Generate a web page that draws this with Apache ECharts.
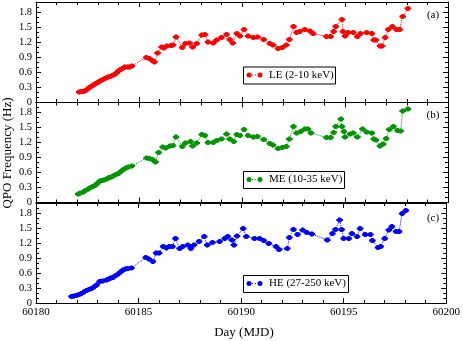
<!DOCTYPE html>
<html><head><meta charset="utf-8">
<script src="https://cdn.jsdelivr.net/npm/echarts@6/dist/echarts.min.js"></script>
<style>html,body{margin:0;padding:0;background:#fff}#c{width:463px;height:341px}</style>
</head><body><div id="c"></div>
<script>
// ---- data ----
const xTicks = [60180, 60185, 60190, 60195, 60200];
const yTicks = [0, 0.3, 0.6, 0.9, 1.2, 1.5, 1.8];

const leDays = [60182.10,60182.20,60182.30,60182.40,60182.50,60182.60,60182.70,60182.80,60182.90,60183.00,60183.10,60183.20,60183.30,60183.40,60183.50,60183.60,60183.70,60183.80,60183.90,60184.00,60184.10,60184.20,60184.30,60184.45,60184.55,60184.65,60185.35,60185.50,60185.65,60185.75,60185.90,60186.10,60186.20,60186.35,60186.55,60186.65,60186.80,60187.10,60187.25,60187.45,60187.60,60187.80,60188.05,60188.20,60188.35,60188.60,60188.77,60189.00,60189.25,60189.40,60189.55,60189.75,60189.90,60190.10,60190.30,60190.55,60190.75,60191.05,60191.35,60191.50,60191.75,60191.95,60192.15,60192.30,60192.50,60192.65,60192.80,60193.05,60193.30,60193.45,60194.10,60194.30,60194.45,60194.55,60194.85,60194.90,60195.00,60195.15,60195.40,60195.60,60195.75,60196.05,60196.30,60196.40,60196.50,60196.70,60196.80,60196.95,60197.10,60197.30,60197.50,60197.65,60197.80,60198.05];
const leFreq = [0.20,0.21,0.21,0.23,0.26,0.29,0.32,0.34,0.37,0.39,0.42,0.44,0.46,0.48,0.50,0.51,0.53,0.55,0.58,0.62,0.65,0.67,0.70,0.70,0.70,0.72,0.89,0.87,0.83,0.80,0.98,1.10,1.08,1.12,1.13,1.14,1.30,1.09,1.17,1.18,1.10,1.17,1.34,1.35,1.20,1.18,1.24,1.29,1.35,1.25,1.18,1.37,1.32,1.45,1.32,1.29,1.30,1.25,1.17,1.14,1.07,1.09,1.14,1.25,1.51,1.39,1.41,1.45,1.42,1.37,1.31,1.31,1.41,1.51,1.65,1.41,1.32,1.39,1.39,1.31,1.37,1.39,1.37,1.24,1.24,1.12,1.12,1.29,1.45,1.51,1.45,1.45,1.71,1.87];

const meDays = [60182.05,60182.15,60182.30,60182.40,60182.54,60182.65,60182.75,60182.86,60182.97,60183.10,60183.20,60183.30,60183.43,60183.55,60183.65,60183.75,60183.88,60184.00,60184.12,60184.24,60184.36,60184.48,60184.65,60185.37,60185.50,60185.65,60185.80,60185.95,60186.15,60186.30,60186.50,60186.65,60186.80,60187.10,60187.25,60187.50,60187.60,60187.80,60188.05,60188.20,60188.35,60188.60,60188.77,60189.00,60189.25,60189.40,60189.60,60189.75,60189.90,60190.10,60190.30,60190.55,60190.75,60191.05,60191.35,60191.50,60191.75,60191.95,60192.15,60192.30,60192.50,60192.65,60192.85,60193.05,60193.20,60193.35,60194.10,60194.30,60194.45,60194.55,60194.80,60194.85,60194.95,60195.00,60195.25,60195.40,60195.60,60195.85,60196.05,60196.30,60196.40,60196.50,60196.70,60196.85,60197.00,60197.15,60197.35,60197.55,60197.70,60197.80,60198.05];
const meFreq = [0.17,0.19,0.21,0.24,0.27,0.30,0.32,0.34,0.38,0.43,0.44,0.45,0.47,0.50,0.51,0.53,0.56,0.58,0.62,0.66,0.69,0.71,0.73,0.89,0.88,0.86,0.81,1.00,1.11,1.09,1.13,1.14,1.31,1.12,1.19,1.22,1.13,1.19,1.36,1.34,1.20,1.20,1.24,1.27,1.37,1.27,1.22,1.36,1.34,1.46,1.34,1.31,1.32,1.26,1.18,1.15,1.08,1.10,1.12,1.27,1.52,1.39,1.42,1.47,1.47,1.39,1.30,1.30,1.40,1.52,1.67,1.52,1.42,1.31,1.37,1.39,1.31,1.47,1.41,1.39,1.27,1.25,1.13,1.17,1.28,1.46,1.52,1.44,1.43,1.83,1.87];

const heDays = [60181.73,60181.85,60181.97,60182.10,60182.20,60182.33,60182.46,60182.58,60182.70,60182.82,60182.95,60183.10,60183.25,60183.43,60183.55,60183.65,60183.75,60183.88,60184.00,60184.12,60184.24,60184.36,60184.48,60184.65,60185.35,60185.50,60185.70,60185.86,60186.00,60186.20,60186.35,60186.50,60186.65,60186.80,60187.00,60187.15,60187.40,60187.55,60187.70,60187.95,60188.20,60188.35,60188.60,60188.95,60189.20,60189.35,60189.55,60189.65,60189.80,60190.10,60190.25,60190.65,60190.90,60191.10,60191.35,60191.70,60191.85,60192.25,60192.35,60192.55,60192.75,60193.00,60193.20,60193.45,60194.20,60194.45,60194.60,60194.80,60194.90,60195.00,60195.25,60195.40,60195.65,60195.80,60196.05,60196.30,60196.40,60196.67,60196.80,60197.00,60197.20,60197.35,60197.55,60197.70,60197.85,60198.03];
const heFreq = [0.13,0.14,0.15,0.17,0.19,0.22,0.25,0.27,0.29,0.32,0.36,0.43,0.44,0.46,0.48,0.50,0.51,0.55,0.58,0.62,0.66,0.68,0.69,0.70,0.91,0.88,0.83,1.00,1.00,1.13,1.10,1.13,1.13,1.29,1.09,1.13,1.16,1.09,1.16,1.23,1.33,1.16,1.21,1.23,1.29,1.33,1.26,1.16,1.34,1.49,1.33,1.29,1.29,1.25,1.19,1.13,1.07,1.09,1.31,1.47,1.37,1.46,1.41,1.38,1.26,1.39,1.47,1.66,1.47,1.29,1.29,1.39,1.33,1.49,1.37,1.37,1.25,1.11,1.13,1.29,1.46,1.53,1.43,1.43,1.79,1.85];

const xErr = 0.16;  // day
const yErr = 0.045; // Hz

const panels = [
  {name: 'LE (2-10 keV)',   tag: '(a)', color: '#ff0000', days: leDays, freq: leFreq},
  {name: 'ME (10-35 keV)',  tag: '(b)', color: '#009400', days: meDays, freq: meFreq},
  {name: 'HE (27-250 keV)', tag: '(c)', color: '#0000ff', days: heDays, freq: heFreq}
];

// ---- layout ----
const FONT = 'Liberation Serif';
const gridTops = [2, 102.5, 203];
const gridH = 100;
const gridL = 36, gridW = 412;
const legendBoxes = [
  {x: 243, y: 66.5, w: 92, h: 17},
  {x: 243, y: 171, w: 101, h: 17},
  {x: 243, y: 275, w: 105, h: 17}
];
const tagY = [15, 115.5, 218];

const chart = echarts.init(document.getElementById('c'), null, {renderer: 'canvas'});

const grids = [], xAxes = [], yAxes = [], series = [], graphics = [];
const axisLineStyle = {color: '#000', width: 1};

panels.forEach((p, i) => {
  grids.push({left: gridL, top: gridTops[i], width: gridW, height: gridH});
  const isLast = i === panels.length - 1;
  const xBase = {
    type: 'value', gridIndex: i, min: xTicks[0], max: xTicks[xTicks.length - 1], interval: 5,
    axisLine: {show: true, onZero: false, lineStyle: axisLineStyle},
    axisTick: {show: true, inside: true, length: 5, lineStyle: {color: '#000', width: 1}},
    minorTick: {show: true, splitNumber: 5, length: 3, lineStyle: {color: '#000', width: 1}},
    splitLine: {show: false}
  };
  xAxes.push(Object.assign({}, xBase, {
    position: 'bottom',
    axisLabel: {show: isLast, fontFamily: FONT, fontSize: 11, color: '#000', margin: 4,
      formatter: v => xTicks.includes(v) ? String(v) : ''}
  }));
  xAxes.push(Object.assign({}, xBase, {position: 'top', axisLabel: {show: false}}));

  const yBase = {
    type: 'value', gridIndex: i, min: 0, max: 2.0, interval: 0.3,
    axisLine: {show: true, onZero: false, lineStyle: axisLineStyle},
    axisTick: {show: true, inside: true, length: 5, lineStyle: {color: '#000', width: 1}},
    minorTick: {show: true, splitNumber: 3, length: 3, lineStyle: {color: '#000', width: 1}},
    splitLine: {show: false}
  };
  yAxes.push(Object.assign({}, yBase, {
    position: 'left',
    axisLabel: {show: true, fontFamily: FONT, fontSize: 10.5, color: '#000', margin: 4,
      showMaxLabel: false,
      formatter: v => { const t = yTicks.find(k => Math.abs(k - v) < 1e-6); return t === undefined ? '' : String(t); }}
  }));
  yAxes.push(Object.assign({}, yBase, {position: 'right', axisLabel: {show: false}}));

  const data = p.days.map((d, k) => [d, p.freq[k]]);
  series.push({
    type: 'line', name: p.name, xAxisIndex: 2 * i, yAxisIndex: 2 * i, data: data,
    showSymbol: true, symbol: 'circle', symbolSize: 5,
    itemStyle: {color: p.color},
    lineStyle: {color: p.color, width: 1, type: 'dotted'},
    z: 4, silent: true
  });
  series.push({
    type: 'custom', xAxisIndex: 2 * i, yAxisIndex: 2 * i, data: data, silent: true, z: 3,
    renderItem: (params, api) => {
      const x = api.value(0), y = api.value(1);
      const l = api.coord([x - xErr, y]), r = api.coord([x + xErr, y]);
      const t = api.coord([x, y + yErr]), b = api.coord([x, y - yErr]);
      return {type: 'group', children: [
        {type: 'line', shape: {x1: l[0], y1: l[1], x2: r[0], y2: r[1]}, style: {stroke: p.color, lineWidth: 2}},
        {type: 'line', shape: {x1: t[0], y1: t[1], x2: b[0], y2: b[1]}, style: {stroke: p.color, lineWidth: 2}}
      ]};
    }
  });

  // legend box
  const lb = legendBoxes[i];
  const cy = lb.y + lb.h / 2;
  graphics.push({type: 'rect', left: lb.x, top: lb.y, shape: {x: 0, y: 0, width: lb.w, height: lb.h},
    style: {fill: '#fff', stroke: '#000', lineWidth: 1}, z: 10});
  graphics.push({type: 'line', shape: {x1: lb.x + 6, y1: cy, x2: lb.x + 17, y2: cy},
    style: {stroke: p.color, lineWidth: 1, lineDash: [1, 2]}, z: 11});
  graphics.push({type: 'circle', shape: {cx: lb.x + 6, cy: cy, r: 2.5}, style: {fill: p.color}, z: 11});
  graphics.push({type: 'circle', shape: {cx: lb.x + 17, cy: cy, r: 2.5}, style: {fill: p.color}, z: 11});
  graphics.push({type: 'text', x: lb.x + 26, y: cy, z: 11,
    style: {text: p.name, fontFamily: FONT, fontSize: 11, fill: '#000', textAlign: 'left', textVerticalAlign: 'middle'}});
  // panel tag
  graphics.push({type: 'text', x: 433, y: tagY[i], z: 11,
    style: {text: p.tag, fontFamily: FONT, fontSize: 11, fill: '#000', textAlign: 'center', textVerticalAlign: 'middle'}});
});

// axis titles
graphics.push({type: 'text', x: 244, y: 333, z: 11,
  style: {text: 'Day (MJD)', fontFamily: FONT, fontSize: 13, fill: '#000', textAlign: 'center', textVerticalAlign: 'middle'}});
graphics.push({type: 'text', x: 8, y: 153, rotation: Math.PI / 2, z: 11,
  style: {text: 'QPO Frequency (Hz)', fontFamily: FONT, fontSize: 13, fill: '#000', textAlign: 'center', textVerticalAlign: 'middle'}});

chart.setOption({
  animation: false,
  backgroundColor: '#fff',
  grid: grids, xAxis: xAxes, yAxis: yAxes, series: series, graphic: graphics
});
</script>
</body></html>
